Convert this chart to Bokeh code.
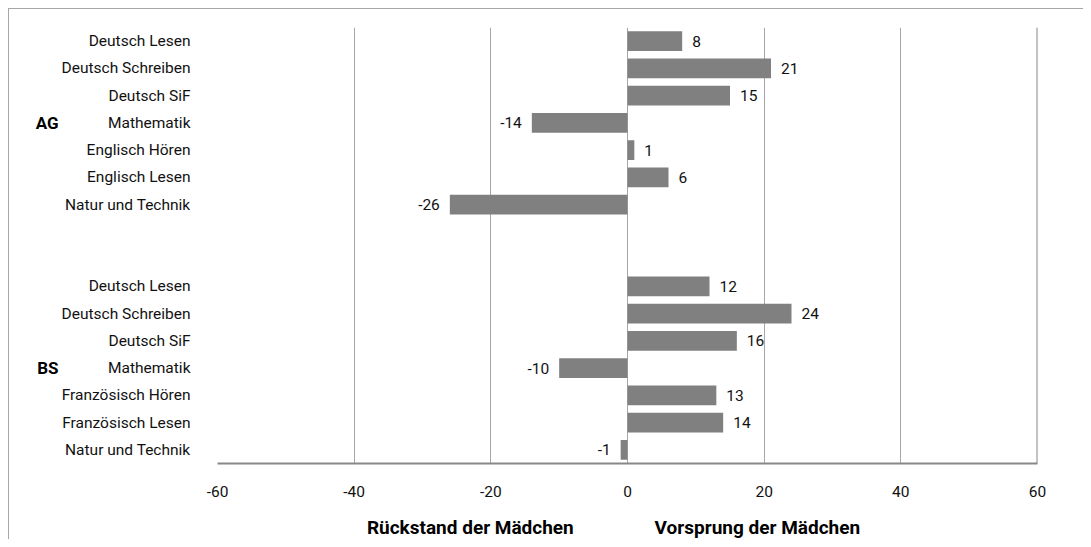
from bokeh.plotting import figure
from bokeh.models import (FactorRange, ColumnDataSource, Span, FixedTicker,
                          PrintfTickFormatter, LinearAxis)
from bokeh.embed import file_html
from bokeh.resources import INLINE
from bokeh.core.properties import value

# ---- data ----
ag_subjects = ["Deutsch Lesen", "Deutsch Schreiben", "Deutsch SiF", "Mathematik",
               "Englisch Hören", "Englisch Lesen", "Natur und Technik"]
ag_values = [8, 21, 15, -14, 1, 6, -26]
bs_subjects = ["Deutsch Lesen", "Deutsch Schreiben", "Deutsch SiF", "Mathematik",
               "Französisch Hören", "Französisch Lesen", "Natur und Technik"]
bs_values = [12, 24, 16, -10, 13, 14, -1]
groups = ["AG", "BS"]
x_ticks = [-60, -40, -20, 0, 20, 40, 60]
axis_titles = ["Rückstand der Mädchen", "Vorsprung der Mädchen"]
title_x = [-23, 19]

FONT = "Roboto"
FS = "15.5px"

factors = [(groups[0], s) for s in ag_subjects] + [(groups[1], s) for s in bs_subjects]
vals = ag_values + bs_values
factors_bu = list(reversed(factors))  # first factor is drawn at the bottom

src = ColumnDataSource(dict(
    f=factors,
    v=vals,
    t=[str(v) for v in vals],
    xo=[10 if v >= 0 else -10 for v in vals],
    ta=["left" if v >= 0 else "right" for v in vals],
))

p = figure(width=1083, height=539, x_range=(-60, 60),
           y_range=FactorRange(factors=factors_bu, group_padding=2, factor_padding=0,
                               range_padding=0),
           output_backend="svg", toolbar_location=None,
           min_border_left=209, min_border_right=54, min_border_top=19, min_border_bottom=84)
p.styles = {
    "padding-left": "8px",
    "padding-top": "8px",
    "background": ("linear-gradient(#a6a6a6, #a6a6a6) 8px 8px / 100% 1px no-repeat, "
                   "linear-gradient(#a6a6a6, #a6a6a6) 8px 8px / 1px 100% no-repeat, white"),
}
p.outline_line_color = None
p.background_fill_color = "white"
p.border_fill_alpha = 0

p.hbar(y="f", left=0, right="v", height=0.73, source=src,
       fill_color="#808080", line_color=None)

p.text(x="v", y="f", text="t", x_offset="xo", text_align="ta", text_baseline="middle",
       source=src, text_font=value(FONT), text_font_size=FS, text_color="#111111")

# grid
p.ygrid.grid_line_color = None
p.xgrid.ticker = FixedTicker(ticks=x_ticks)
p.xgrid.grid_line_color = "#a6a6a6"
p.xgrid.grid_line_width = 1
p.add_layout(Span(location=60, dimension="height", line_color="#888888", line_width=2))

# x axis
xa = p.xaxis[0]
xa.ticker = FixedTicker(ticks=x_ticks)
xa.formatter = PrintfTickFormatter(format="%d")
xa.axis_line_color = "#888888"
xa.axis_line_width = 2
xa.major_tick_out = 0
xa.major_tick_in = 0
xa.minor_tick_out = 0
xa.minor_tick_in = 0
xa.major_label_standoff = 22
xa.major_label_text_font = FONT
xa.major_label_text_font_size = FS
xa.major_label_text_color = "#111111"

# second x axis carrying the two bold titles
ta_axis = LinearAxis(ticker=FixedTicker(ticks=title_x),
                     major_label_overrides={title_x[0]: axis_titles[0], title_x[1]: axis_titles[1]})
ta_axis.axis_line_color = None
ta_axis.major_tick_out = 0
ta_axis.major_tick_in = 0
ta_axis.minor_tick_out = 0
ta_axis.minor_tick_in = 0
ta_axis.major_label_standoff = 16
ta_axis.major_label_text_font = FONT
ta_axis.major_label_text_font_size = "19px"
ta_axis.major_label_text_font_style = "bold"
ta_axis.major_label_text_color = "#000000"
p.add_layout(ta_axis, "below")

# y axis: subjects, with the group names (AG / BS) as the outer level
ya = p.yaxis[0]
ya.axis_line_color = None
ya.major_tick_out = 27          # invisible ticks keep the labels off the plot area
ya.major_tick_in = 0
ya.major_tick_line_color = None
ya.major_label_standoff = 0
ya.major_label_text_font = FONT
ya.major_label_text_font_size = FS
ya.major_label_text_color = "#111111"
ya.group_label_orientation = "horizontal"
ya.group_text_font = FONT
ya.group_text_font_size = "17px"
ya.group_text_font_style = "bold"
ya.group_text_color = "#000000"
ya.separator_line_color = None

open("out.html", "w").write(file_html(p, INLINE))
